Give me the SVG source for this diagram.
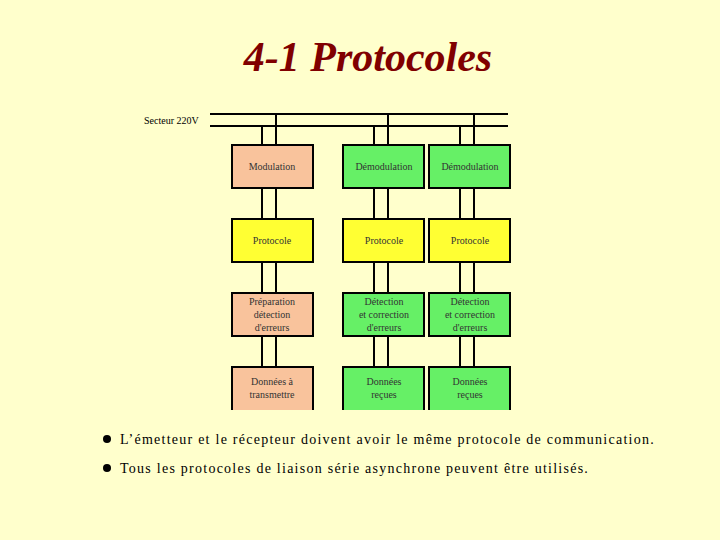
<svg xmlns="http://www.w3.org/2000/svg" width="720" height="540" viewBox="0 0 720 540">
<style>
.b{stroke:#000;stroke-width:2}
.o{fill:#F9C39C}.g{fill:#66F066}.y{fill:#FFFF33}
.t{font-family:"Liberation Serif",serif;font-size:10px;text-anchor:middle;fill:#333}
.w{stroke:#000;stroke-width:2;fill:none}
.bt{font-family:"Liberation Serif",serif;font-size:14px;fill:#000;letter-spacing:1.25px}
</style>
<rect width="720" height="540" fill="#FFFFCC"/>
<text x="368" y="71" font-family="Liberation Serif,serif" font-size="42" font-style="italic" font-weight="bold" fill="#800000" text-anchor="middle">4-1 Protocoles</text>
<text x="144" y="124" font-family="Liberation Serif,serif" font-size="10" fill="#000">Secteur 220V</text>
<g id="connectors" class="w">
<path d="M210 114H508M210 126H508"/>
<path d="M276 114V367M262 126V367M388 114V367M374 126V367M474 114V367M460 126V367"/>
</g>
<g id="n1"><rect class="b o" x="232" y="145" width="81" height="43"/><text class="t" x="272" y="170">Modulation</text></g>
<g id="n2"><rect class="b g" x="343" y="145" width="81" height="43"/><text class="t" x="384" y="170">Démodulation</text></g>
<g id="n3"><rect class="b g" x="429" y="145" width="81" height="43"/><text class="t" x="470" y="170">Démodulation</text></g>
<g id="n4"><rect class="b y" x="232" y="219" width="81" height="43"/><text class="t" x="272" y="244">Protocole</text></g>
<g id="n5"><rect class="b y" x="343" y="219" width="81" height="43"/><text class="t" x="384" y="244">Protocole</text></g>
<g id="n6"><rect class="b y" x="429" y="219" width="81" height="43"/><text class="t" x="470" y="244">Protocole</text></g>
<g id="n7"><rect class="b o" x="232" y="293" width="81" height="43"/><text class="t" x="272" y="305">Préparation</text><text class="t" x="272" y="318">détection</text><text class="t" x="272" y="331">d'erreurs</text></g>
<g id="n8"><rect class="b g" x="343" y="293" width="81" height="43"/><text class="t" x="384" y="305">Détection</text><text class="t" x="384" y="318">et correction</text><text class="t" x="384" y="331">d'erreurs</text></g>
<g id="n9"><rect class="b g" x="429" y="293" width="81" height="43"/><text class="t" x="470" y="305">Détection</text><text class="t" x="470" y="318">et correction</text><text class="t" x="470" y="331">d'erreurs</text></g>
<g id="n10"><path class="b o" d="M232 410V367H313V410"/><text class="t" x="272" y="385">Données à</text><text class="t" x="272" y="398">transmettre</text></g>
<g id="n11"><path class="b g" d="M343 410V367H424V410"/><text class="t" x="384" y="385">Données</text><text class="t" x="384" y="398">reçues</text></g>
<g id="n12"><path class="b g" d="M429 410V367H510V410"/><text class="t" x="470" y="385">Données</text><text class="t" x="470" y="398">reçues</text></g>
<circle cx="107" cy="439" r="4"/>
<text class="bt" x="120" y="444">L’émetteur et le récepteur doivent avoir le même protocole de communication.</text>
<circle cx="107" cy="468" r="4"/>
<text class="bt" x="120" y="473">Tous les protocoles de liaison série asynchrone peuvent être utilisés.</text>
</svg>
